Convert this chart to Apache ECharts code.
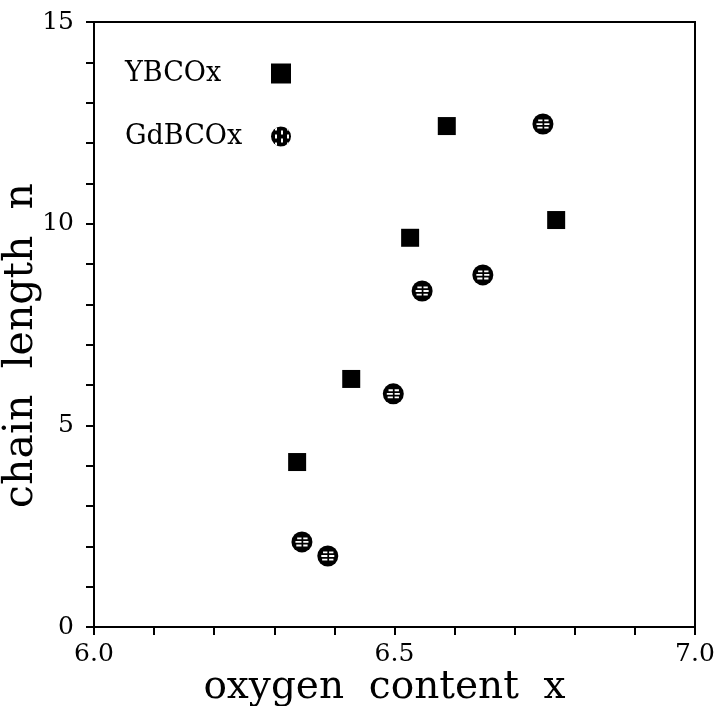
<!DOCTYPE html>
<html>
<head>
<meta charset="utf-8">
<script src="https://cdn.jsdelivr.net/npm/echarts@6/dist/echarts.min.js"></script>
<style>
  html, body { margin: 0; padding: 0; background: #fff; }
  #chart { width: 715px; height: 706px; }
</style>
</head>
<body>
<div id="chart"></div>
<script>
// YBCOx samples: oxygen content x and chain length n
const ybcoX = [6.338, 6.428, 6.526, 6.587, 6.769];
const ybcoN = [4.09, 6.15, 9.65, 12.42, 10.09];

// GdBCOx samples
const gdbcoX = [6.346, 6.389, 6.498, 6.546, 6.647, 6.747];
const gdbcoN = [2.11, 1.76, 5.78, 8.33, 8.73, 12.47];

const seriesNames = ['YBCOx', 'GdBCOx'];
const xTickLabels = ['6.0', '6.5', '7.0'];
const yTickLabels = ['0', '5', '10', '15'];

const FONT = 'DejaVu Serif';
const INK = '#000';

// white hatching drawn on top of the round markers
const HATCH = 'path://M2,0h5v2h-5z M9,0h5v2h-5z M0,4h7v2h-7z M9,4h6v2h-6z M1,8h6v2h-6z M9,8h5v2h-5z';

function pairs(xs, ys) {
  return xs.map((x, i) => [x, ys[i]]);
}

function pickLabel(value, labels) {
  for (const l of labels) {
    if (Math.abs(parseFloat(l) - value) < 1e-6) return l;
  }
  return '';
}

const chart = echarts.init(document.getElementById('chart'), null, { renderer: 'canvas' });

chart.setOption({
  backgroundColor: '#fff',
  animation: false,
  grid: {
    left: 94, right: 20, top: 22, bottom: 79,
    outerBoundsMode: 'none', containLabel: false,
    show: true, borderColor: INK, borderWidth: 2, backgroundColor: 'transparent'
  },
  legend: {
    orient: 'vertical',
    left: 120, top: 55,
    align: 'right',
    itemGap: 36,
    itemWidth: 20, itemHeight: 20,
    selectedMode: false,
    data: [
      { name: seriesNames[0], icon: 'rect' },
      { name: seriesNames[1], icon: 'circle' }
    ],
    formatter: name => '{t|' + name + '}',
    textStyle: {
      rich: {
        t: {
          fontFamily: FONT, fontSize: 27, color: INK,
          width: 141, align: 'left', lineHeight: 32
        }
      }
    }
  },
  xAxis: {
    type: 'value', min: 6, max: 7, interval: 0.1,
    splitLine: { show: false },
    axisLine: { lineStyle: { color: INK, width: 2 } },
    axisTick: { length: 8, lineStyle: { color: INK, width: 2 } },
    axisLabel: {
      fontFamily: FONT, fontSize: 25, color: INK, margin: 15,
      formatter: v => pickLabel(v, xTickLabels)
    },
    name: 'oxygen  content  x',
    nameLocation: 'middle', nameGap: 41, nameMoveOverlap: false,
    nameTextStyle: { fontFamily: FONT, fontSize: 39, color: INK, padding: [0, 20, 0, 0] }
  },
  yAxis: {
    type: 'value', min: 0, max: 15, interval: 1,
    splitLine: { show: false },
    axisLine: { lineStyle: { color: INK, width: 2 } },
    axisTick: { length: 8, lineStyle: { color: INK, width: 2 } },
    axisLabel: {
      fontFamily: FONT, fontSize: 25, color: INK, margin: 20,
      formatter: v => pickLabel(v, yTickLabels)
    },
    name: 'chain  length  n',
    nameLocation: 'middle', nameGap: 52, nameMoveOverlap: false,
    nameTextStyle: { fontFamily: FONT, fontSize: 41, color: INK, padding: [0, 42, 0, 0] }
  },
  series: [
    {
      name: seriesNames[0],
      type: 'scatter',
      symbol: 'rect',
      symbolSize: 18,
      itemStyle: { color: '#000', opacity: 1 },
      data: pairs(ybcoX, ybcoN)
    },
    {
      name: seriesNames[1],
      type: 'scatter',
      symbol: 'circle',
      symbolSize: 21,
      itemStyle: {
        color: '#000', opacity: 1,
        decal: {
          symbol: 'rect', symbolSize: 1, color: '#fff',
          dashArrayX: [[4, 4], [0, 4, 4, 0]], dashArrayY: [2, 4], rotation: Math.PI / 2
        }
      },
      data: pairs(gdbcoX, gdbcoN)
    },
    {
      name: 'GdBCOx hatch',
      type: 'scatter',
      symbol: HATCH,
      symbolSize: [13, 9],
      silent: true,
      z: 3,
      itemStyle: { color: '#fff', opacity: 1 },
      data: pairs(gdbcoX, gdbcoN)
    }
  ]
});
</script>
</body>
</html>
